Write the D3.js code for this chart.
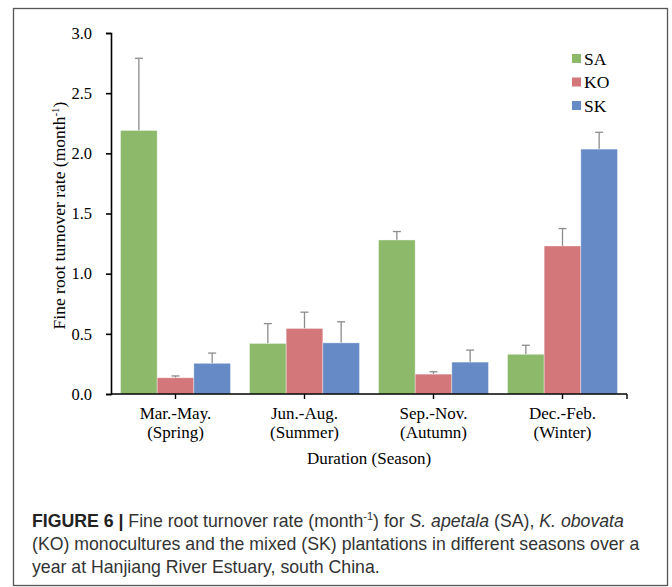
<!DOCTYPE html>
<html>
<head>
<meta charset="utf-8">
<script src="https://cdn.jsdelivr.net/npm/d3@7"></script>
<style>
  body { margin: 0; background: #fff; }
  svg { display: block; }
  .serif { font-family: "Liberation Serif", "DejaVu Serif", serif; }
  .caption { font-family: "Liberation Sans", Arial, sans-serif; fill: #333; }
</style>
</head>
<body>
<div id="chart"></div>
<script>
// seasons and series
const seasons = ["Mar.-May.", "Jun.-Aug.", "Sep.-Nov.", "Dec.-Feb."];
const seasonNames = ["(Spring)", "(Summer)", "(Autumn)", "(Winter)"];
const series = ["SA", "KO", "SK"];
const colors = ["#8db96b", "#d4777b", "#668ac6"];

// turnover rate (month-1) and error bar lengths
const saValues = [2.19, 0.42, 1.28, 0.33];
const saErrors = [0.60, 0.165, 0.07, 0.075];
const koValues = [0.135, 0.545, 0.165, 1.23];
const koErrors = [0.015, 0.135, 0.02, 0.145];
const skValues = [0.255, 0.425, 0.265, 2.035];
const skErrors = [0.085, 0.175, 0.10, 0.14];

const yTicks = [0, 0.5, 1.0, 1.5, 2.0, 2.5, 3.0];

const width = 672, height = 587;
const margin = {top: 33, right: 45, bottom: 193, left: 111};

const svg = d3.select("#chart").append("svg")
    .attr("width", width)
    .attr("height", height);

// outer frame
svg.append("rect")
    .attr("x", 13.5).attr("y", 8.5)
    .attr("width", 654).attr("height", 577)
    .attr("fill", "none")
    .attr("stroke", "#555")
    .attr("stroke-width", 1.3);

const x = d3.scaleBand()
    .domain(seasons)
    .range([margin.left, width - margin.right]);

const xSub = d3.scaleBand()
    .domain(series)
    .range([0, x.bandwidth()])
    .paddingOuter(0.26);

const y = d3.scaleLinear()
    .domain([0, 3])
    .range([height - margin.bottom, margin.top]);

const table = seasons.map((s, i) => ({
  season: s,
  bars: [
    {key: "SA", value: saValues[i], err: saErrors[i]},
    {key: "KO", value: koValues[i], err: koErrors[i]},
    {key: "SK", value: skValues[i], err: skErrors[i]}
  ]
}));
const color = d3.scaleOrdinal().domain(series).range(colors);

const groups = svg.append("g").selectAll("g")
    .data(table)
  .join("g")
    .attr("transform", d => `translate(${x(d.season)},0)`);

// error bars (drawn first, bar covers lower part)
const errs = groups.selectAll(".err")
    .data(d => d.bars)
  .join("g")
    .attr("class", "err")
    .attr("stroke", "#8c8c8c")
    .attr("stroke-width", 1.3);
errs.append("line")
    .attr("x1", d => xSub(d.key) + xSub.bandwidth() / 2)
    .attr("x2", d => xSub(d.key) + xSub.bandwidth() / 2)
    .attr("y1", d => y(d.value))
    .attr("y2", d => y(d.value + d.err));
errs.append("line")
    .attr("x1", d => xSub(d.key) + xSub.bandwidth() / 2 - 4)
    .attr("x2", d => xSub(d.key) + xSub.bandwidth() / 2 + 4)
    .attr("y1", d => y(d.value + d.err))
    .attr("y2", d => y(d.value + d.err));

groups.selectAll("rect")
    .data(d => d.bars)
  .join("rect")
    .attr("x", d => xSub(d.key))
    .attr("y", d => y(d.value))
    .attr("width", xSub.bandwidth())
    .attr("height", d => y(0) - y(d.value))
    .attr("fill", d => color(d.key))
    .attr("stroke", "rgba(255,255,255,0.45)")
    .attr("stroke-width", 0.8);

// y axis
const yAxis = svg.append("g")
    .attr("transform", `translate(${margin.left},0)`)
    .call(d3.axisLeft(y).tickValues(yTicks).tickFormat(d3.format(".1f")).tickSize(5).tickPadding(14));
yAxis.selectAll("text").attr("font-size", 16.5).attr("fill", "#000")
    .attr("font-family", "Liberation Serif");
yAxis.selectAll("line, path").attr("stroke", "#000").attr("stroke-width", 1.6);

// x axis, ticks at category centres plus an end tick
const xAxis = svg.append("g")
    .attr("transform", `translate(0,${y(0)})`);
xAxis.append("line")
    .attr("x1", margin.left).attr("x2", width - margin.right)
    .attr("stroke", "#000").attr("stroke-width", 1.6);
xAxis.selectAll(".tick")
    .data(seasons)
  .join("line")
    .attr("class", "tick")
    .attr("x1", d => x(d) + x.bandwidth() / 2)
    .attr("x2", d => x(d) + x.bandwidth() / 2)
    .attr("y2", 5)
    .attr("stroke", "#000").attr("stroke-width", 1.4);
xAxis.append("line")
    .attr("x1", width - margin.right).attr("x2", width - margin.right)
    .attr("y2", 5)
    .attr("stroke", "#000").attr("stroke-width", 1.4);

const labels = xAxis.selectAll(".lbl")
    .data(seasons)
  .join("text")
    .attr("class", "lbl serif")
    .attr("text-anchor", "middle")
    .attr("font-size", 17)
    .attr("x", d => x(d) + x.bandwidth() / 2);
labels.append("tspan").attr("y", 25).text(d => d);
labels.append("tspan")
    .attr("x", d => x(d) + x.bandwidth() / 2)
    .attr("y", 44)
    .text((d, i) => seasonNames[i]);

// axis titles
svg.append("text")
    .attr("class", "serif")
    .attr("x", (margin.left + width - margin.right) / 2)
    .attr("y", 464)
    .attr("text-anchor", "middle")
    .attr("font-size", 17)
    .text("Duration (Season)");

const yTitle = svg.append("text")
    .attr("class", "serif")
    .attr("transform", `translate(65,${(y(0) + y(3)) / 2 + 2}) rotate(-90)`)
    .attr("text-anchor", "middle")
    .attr("font-size", 17.5);
yTitle.append("tspan").text("Fine root turnover rate (month");
yTitle.append("tspan").attr("font-size", 11).attr("dy", -6).text("-1");
yTitle.append("tspan").attr("dy", 6).text(")");

// legend
const legend = svg.append("g").attr("class", "serif")
    .selectAll("g")
    .data(series)
  .join("g")
    .attr("transform", (d, i) => `translate(572,${58.5 + i * 23.5})`);
legend.append("rect")
    .attr("y", -4.5).attr("width", 9).attr("height", 9)
    .attr("fill", d => color(d));
legend.append("text")
    .attr("x", 12).attr("y", 6)
    .attr("font-size", 17.5)
    .text(d => d);

// caption
const cap = svg.append("g").attr("class", "caption").attr("font-size", 17.7);
const l1 = cap.append("text").attr("x", 32).attr("y", 527);
l1.append("tspan").attr("font-weight", "bold").attr("fill", "#222").text("FIGURE 6 |");
l1.append("tspan").text(" Fine root turnover rate (month");
l1.append("tspan").attr("font-size", 11).attr("dy", -7).text("-1");
l1.append("tspan").attr("dy", 7).text(") for ");
l1.append("tspan").attr("font-style", "italic").text("S. apetala");
l1.append("tspan").text(" (SA), ");
l1.append("tspan").attr("font-style", "italic").text("K. obovata");
cap.append("text").attr("x", 32).attr("y", 550)
    .text("(KO) monocultures and the mixed (SK) plantations in different seasons over a");
cap.append("text").attr("x", 32).attr("y", 573)
    .text("year at Hanjiang River Estuary, south China.");
</script>
</body>
</html>
